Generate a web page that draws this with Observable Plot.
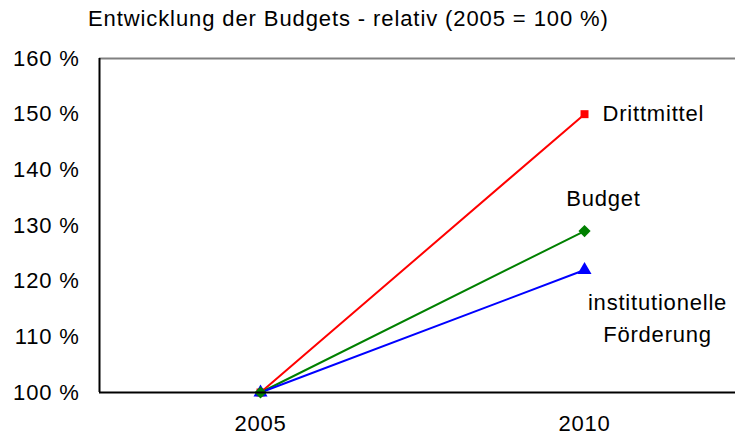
<!DOCTYPE html>
<html><head><meta charset="utf-8">
<script src="https://cdn.jsdelivr.net/npm/d3@7"></script>
<script src="https://cdn.jsdelivr.net/npm/@observablehq/plot@0.6"></script>
<style>
body{margin:0;background:#fff;font-family:"Liberation Sans",Arial,sans-serif;}
#wrap{position:relative;width:735px;height:438px;}
#title{position:absolute;left:88px;top:6px;font-size:22px;line-height:26px;letter-spacing:0.9px;color:#000;white-space:nowrap;}
svg text{letter-spacing:0.8px;}
</style></head>
<body><div id="wrap"><div id="title">Entwicklung der Budgets - relativ (2005 = 100 %)</div></div>
<script>
const years = [2005, 2010];
const seriesNames = ["Drittmittel", "institutionelle\nFörderung", "Budget"];
const drittmittel = [100, 150];
const institutionell = [100, 122];
const budget = [100, 129];
const yTicks = [100, 110, 120, 130, 140, 150, 160];

const rows = (name, vals) => years.map((y, i) => ({year: y, value: vals[i], name}));
const dRows = rows(seriesNames[0], drittmittel);
const iRows = rows(seriesNames[1], institutionell);
const bRows = rows(seriesNames[2], budget);

const font = {fontSize: 22, fill: "#000"};
const plot = Plot.plot({
  width: 735, height: 438,
  marginLeft: 99, marginRight: 0, marginTop: 58, marginBottom: 46,
  style: {fontFamily: "Liberation Sans, Arial, sans-serif", fontSize: "22px", background: "#fff", color: "#000"},
  x: {domain: [2002.515, 2012.33], axis: null},
  y: {domain: [100, 160], axis: null},
  marks: [
    Plot.ruleY([160], {stroke: "#808080", strokeWidth: 2}),
    Plot.axisY({ticks: yTicks, tickSize: 0, tickPadding: 20, tickFormat: d => d + " %", fontSize: 22, label: null}),
    Plot.axisX({ticks: years, tickSize: 0, tickPadding: 23, tickFormat: d => String(d), fontSize: 22, label: null}),
    Plot.lineY(dRows, {x: "year", y: "value", stroke: "#ff0000", strokeWidth: 2}),
    Plot.lineY(bRows, {x: "year", y: "value", stroke: "#008000", strokeWidth: 2}),
    Plot.lineY(iRows, {x: "year", y: "value", stroke: "#0000ff", strokeWidth: 2}),
    Plot.dot(dRows, {x: "year", y: "value", symbol: "square", r: 4.5, fill: "#ff0000", stroke: "none"}),
    Plot.dot(iRows, {x: "year", y: "value", symbol: "triangle", r: 5.2, fill: "#0000ff", stroke: "none"}),
    Plot.dot(bRows, {x: "year", y: "value", symbol: "diamond2", r: 5.5, fill: "#008000", stroke: "none"}),
    Plot.ruleX([2002.515], {stroke: "#000", strokeWidth: 2}),
    Plot.ruleY([100], {stroke: "#000", strokeWidth: 2}),
    Plot.text(dRows.slice(1), {x: "year", y: "value", text: "name", textAnchor: "start", dx: 18, ...font}),
    Plot.text(bRows.slice(1), {x: "year", y: "value", text: "name", textAnchor: "middle", dx: 19, dy: -32, ...font}),
    Plot.text(iRows.slice(1), {x: "year", y: "value", text: "name", textAnchor: "middle", dx: 73, dy: 17, lineAnchor: "top", lineHeight: 1.45, ...font})
  ]
});
document.getElementById("wrap").appendChild(plot);
</script></body></html>
